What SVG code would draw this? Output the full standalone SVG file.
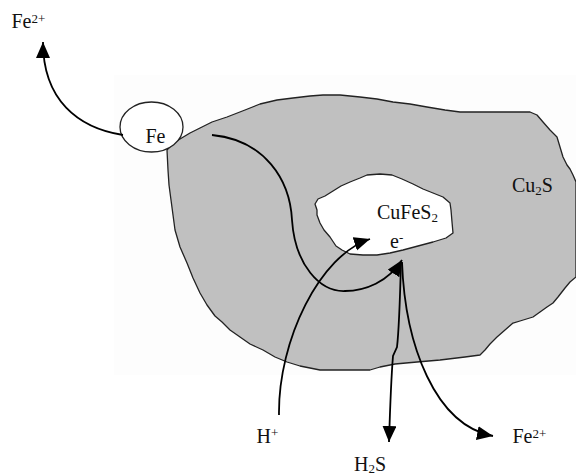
<svg xmlns="http://www.w3.org/2000/svg" width="576" height="475" viewBox="0 0 576 475">
<style>
.t{font-family:"Liberation Serif","Times New Roman",serif;font-size:20px;fill:#111}
.s{font-size:13px}
.edge{fill:none;stroke:#000;stroke-width:1.8;marker-end:url(#ah)}
.phase{stroke:#222;stroke-width:1.3;stroke-linejoin:round}
</style>
<defs>
<marker id="ah" markerUnits="userSpaceOnUse" markerWidth="17" markerHeight="15" refX="16" refY="7" orient="auto">
<path d="M0,0 L16,7 L0,14 z" fill="#000"/>
</marker>
</defs>
<rect width="576" height="475" fill="#fff"/>
<rect x="114" y="75" width="462" height="300" fill="#fdfdfd"/>
<g id="cu2s">
<polygon class="phase" fill="#c0c0c0" points="167,150 172,144 180,139 190,133 200,128 212,122 227,117 245,110 260,104 277,100 293,98 310,96 323,95 340,95 360,97 377,99 393,102 410,104 427,107 445,110 460,112 477,112 500,112 530,112 537,115 543,122 550,130 557,137 560,147 563,157 567,165 570,169 573,175 576,182 576,277 570,282 565,288 558,297 553,303 547,307 540,312 533,317 520,321 513,323 505,330 497,337 490,344 485,350 480,355 465,357 440,360 417,362 395,364 380,367 370,370 345,370 320,370 300,366 287,362 275,357 263,350 250,344 240,337 230,330 222,322 215,316 207,305 200,293 193,278 187,263 180,247 175,230 173,215 171,200 169,185 168,170 167,150"/>
<text class="t" x="512" y="191.5">Cu<tspan class="s" dy="3">2</tspan><tspan dy="-3">S</tspan></text>
</g>
<g id="cufes2">
<polygon class="phase" fill="#fff" points="315,204 318,199 325,196 333,191 341,186 350,182 360,178 367,175 380,174 392,175 402,179 413,184 423,189 433,193 443,197 450,203 451,210 452,222 453,233 446,238 433,242 418,246 403,250 390,253 377,255 363,255 350,254 342,250 336,246 330,237 324,230 320,223 317,215 317,210 315,204"/>
<text class="t" x="377" y="219">CuFeS<tspan class="s" dy="3">2</tspan></text>
<text class="t" x="390" y="248">e<tspan class="s" dy="-6">-</tspan></text>
</g>
<g id="fe-particle">
<ellipse class="phase" cx="151.5" cy="127" rx="31.5" ry="25" fill="#fff"/>
<text class="t" x="145.5" y="143.3">Fe</text>
</g>
<g id="connectors">
<path class="edge" d="M123,135 C78,128 43,100 43,42"/>
<path class="edge" d="M212,135 C265,140 290,180 292,220 C295,265 320,292 345,291 C365,291 388,282 402,260"/>
<path class="edge" d="M279,415 C278,340 320,255 370,239"/>
<path class="edge" d="M401,262 C400,300 399,330 397,347 L393,356 C391,380 390,410 389,442"/>
<path class="edge" d="M402,262 C405,345 435,425 493,436"/>
</g>
<g id="fe2-top">
<text class="t" x="11.5" y="28.3">Fe<tspan class="s" dy="-5">2+</tspan></text>
</g>
<g id="h-plus">
<text class="t" x="256.5" y="443.3">H<tspan class="s" dy="-6">+</tspan></text>
</g>
<g id="h2s">
<text class="t" x="354" y="470.5">H<tspan class="s" dy="2">2</tspan><tspan dy="-2">S</tspan></text>
</g>
<g id="fe2-bottom">
<text class="t" x="512.5" y="443.3">Fe<tspan class="s" dy="-5">2+</tspan></text>
</g>
</svg>
